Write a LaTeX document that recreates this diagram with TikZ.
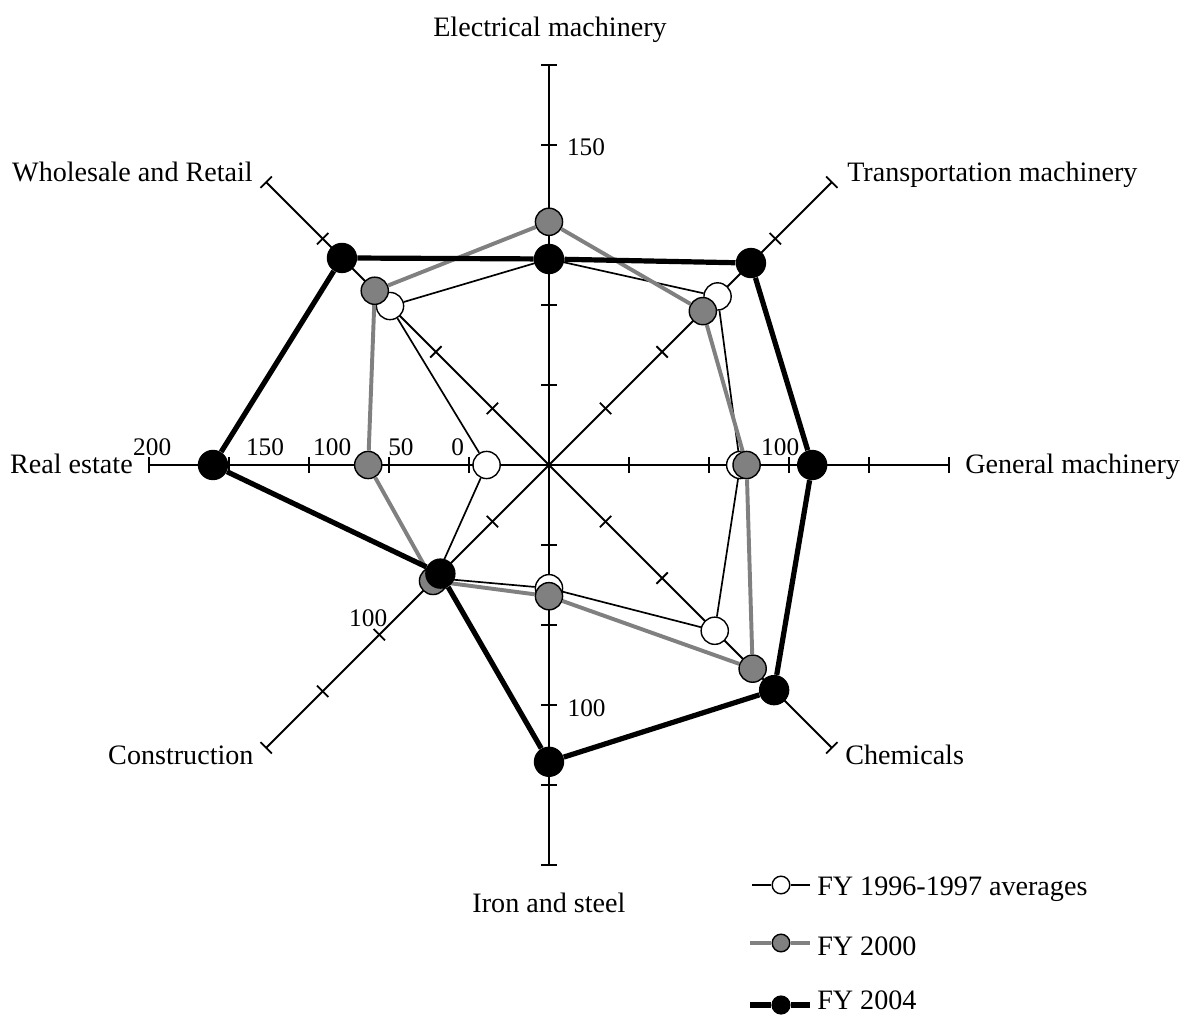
\documentclass[tikz,border=0pt]{standalone}
\usepackage{fontspec}
\setmainfont{Liberation Serif}
\usepackage{tikz}
\usetikzlibrary{positioning}

\begin{document}
\begin{tikzpicture}[
  x=2cm, y=2cm,
  axisline/.style={line width=1.3pt, black},
  cat/.style={font=\fontsize{20}{24}\selectfont, inner sep=0pt},
  num/.style={font=\fontsize{18}{22}\selectfont, inner sep=0pt},
  wdot/.style={circle, draw=black, line width=1pt, fill=white, minimum size=0.68cm, inner sep=0pt},
  gdot/.style={circle, draw=black, line width=1pt, fill=gray, minimum size=0.68cm, inner sep=0pt},
  bdot/.style={circle, fill=black, minimum size=0.76cm, inner sep=0pt},
  wline/.style={line width=1.2pt, black},
  gline/.style={line width=2.8pt, gray},
  bline/.style={line width=3.7pt, black}
]
\useasboundingbox (-6.8625,-6.8875) rectangle (7.925,5.8125);
% axes with ticks
\foreach \a in {0,45,...,315} {
  \draw[axisline, rotate=\a] (0,0) -- (5,0);
  \foreach \r in {1,...,5} \draw[axisline, rotate=\a] (\r,-0.1) -- (\r,0.1);
}
% category labels
\node[cat, anchor=base] at (0.0125,5.35) {Electrical machinery};
\node[cat, anchor=base west] at (3.725,3.5375) {Transportation machinery};
\node[cat, anchor=base west] at (5.2,-0.1125) {General machinery};
\node[cat, anchor=base west] at (3.7,-3.7375) {Chemicals};
\node[cat, anchor=base] at (0,-5.5875) {Iron and steel};
\node[cat, anchor=base east] at (-3.69,-3.7375) {Construction};
\node[cat, anchor=base east] at (-5.2,-0.1125) {Real estate};
\node[cat, anchor=base east] at (-3.7,3.5375) {Wholesale and Retail};
% scale labels
\node[num] at (0.4625,3.975) {150};
\node[num] at (0.47,-3.04) {100};
\node[num] at (2.89,0.225) {100};
\node[num] at (-2.26,-1.91) {100};
\node[num] at (-4.96,0.225) {200};
\node[num] at (-3.55,0.225) {150};
\node[num] at (-2.71,0.225) {100};
\node[num] at (-1.85,0.225) {50};
\node[num] at (-1.14,0.225) {0};
% FY 1996-1997 averages
\node[wdot] (old1) at (90:2.575) {};
\node[wdot] (old2) at (45:2.98) {};
\node[wdot] (old3) at (0:2.39) {};
\node[wdot] (old4) at (-45:2.93) {};
\node[wdot] (old5) at (-90:1.54) {};
\node[wdot] (old6) at (-135:2.0) {};
\node[wdot] (old7) at (180:0.78) {};
\node[wdot] (old8) at (135:2.81) {};
\draw[wline] (old1) -- (old2) -- (old3) -- (old4) -- (old5) -- (old6) -- (old7) -- (old8) -- (old1);
% FY 2000
\node[gdot] (mid1) at (90:3.04) {};
\node[gdot] (mid2) at (45:2.72) {};
\node[gdot] (mid3) at (0:2.47) {};
\node[gdot] (mid4) at (-45:3.6) {};
\node[gdot] (mid5) at (-90:1.64) {};
\node[gdot] (mid6) at (-135:2.05) {};
\node[gdot] (mid7) at (180:2.26) {};
\node[gdot] (mid8) at (135:3.08) {};
\draw[gline] (mid1) -- (mid2) -- (mid3) -- (mid4) -- (mid5) -- (mid6) -- (mid7) -- (mid8) -- (mid1);
% FY 2004
\node[bdot] (new1) at (90:2.575) {};
\node[bdot] (new2) at (45:3.57) {};
\node[bdot] (new3) at (0:3.29) {};
\node[bdot] (new4) at (-45:3.98) {};
\node[bdot] (new5) at (-90:3.71) {};
\node[bdot] (new6) at (-135:1.92) {};
\node[bdot] (new7) at (180:4.2) {};
\node[bdot] (new8) at (135:3.66) {};
\draw[bline] (new1) -- (new2) -- (new3) -- (new4) -- (new5) -- (new6) -- (new7) -- (new8) -- (new1);
% legend
\coordinate (la1) at (2.5375,-5.25);
\coordinate (lb1) at (3.2625,-5.25);
\node[wdot, minimum size=0.44cm] (leg1) at (2.9,-5.25) {};
\draw[wline] (la1) -- (leg1);
\draw[wline] (leg1) -- (lb1);
\node[cat, anchor=base west] at (3.35,-5.375) {FY 1996-1997 averages};
\coordinate (la2) at (2.5125,-5.975);
\coordinate (lb2) at (3.2625,-5.975);
\node[gdot, minimum size=0.44cm] (leg2) at (2.9,-5.975) {};
\draw[gline] (la2) -- (leg2);
\draw[gline] (leg2) -- (lb2);
\node[cat, anchor=base west] at (3.35,-6.125) {FY 2000};
\coordinate (la3) at (2.5125,-6.75);
\coordinate (lb3) at (3.2625,-6.75);
\node[bdot, minimum size=0.48cm] (leg3) at (2.9,-6.75) {};
\draw[bline] (la3) -- (leg3);
\draw[bline] (leg3) -- (lb3);
\node[cat, anchor=base west] at (3.35,-6.81) {FY 2004};
\end{tikzpicture}
\end{document}
